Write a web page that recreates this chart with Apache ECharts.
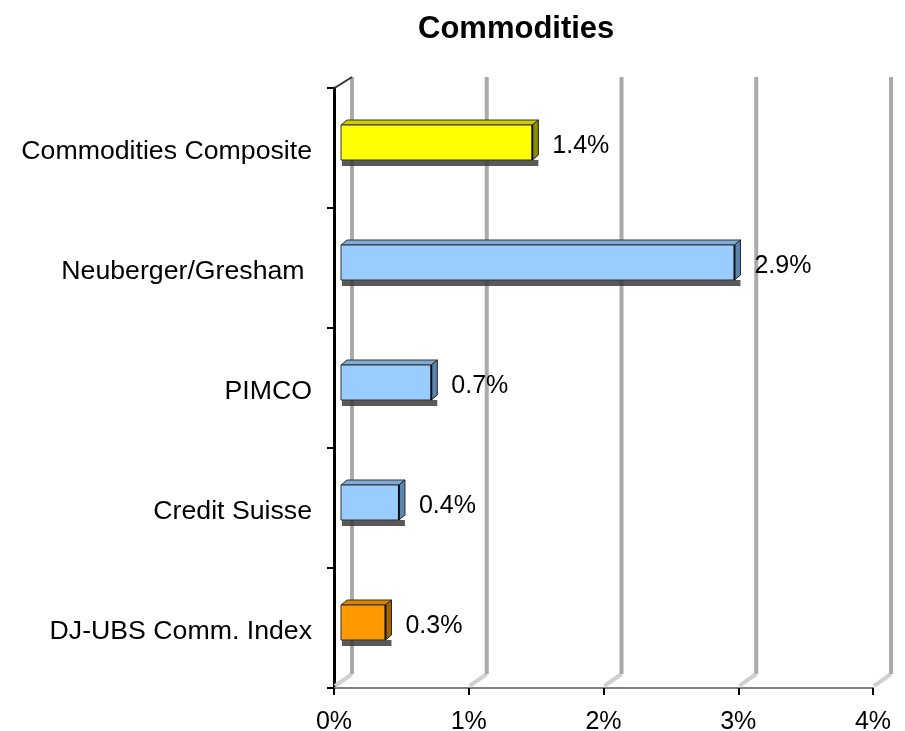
<!DOCTYPE html>
<html>
<head>
<meta charset="utf-8">
<script src="https://cdn.jsdelivr.net/npm/echarts@6/dist/echarts.min.js"></script>
<style>html,body{margin:0;padding:0;background:#fff;}#c{width:905px;height:731px;}</style>
</head>
<body>
<div id="c"></div>
<script>
const titleText = 'Commodities';
const categories = ['DJ-UBS Comm. Index', 'Credit Suisse', 'PIMCO', 'Neuberger/Gresham ', 'Commodities Composite'];
const values = [0.33, 0.43, 0.67, 2.92, 1.42];
const xTicks = [0, 1, 2, 3, 4];

const FONT = 'Liberation Sans, Arial, sans-serif';
const palettes = {
  yellow: { front: '#FFFF00', top: '#CCCC00', side: '#8C8C00' },
  blue: { front: '#99CCFF', top: '#7FAAD6', side: '#5C85B0' },
  orange: { front: '#FF9900', top: '#D98200', side: '#A86200' }
};
function paletteFor(i) {
  if (i === 0) return palettes.orange;
  if (i === categories.length - 1) return palettes.yellow;
  return palettes.blue;
}

const chart = echarts.init(document.getElementById('c'));
chart.setOption({
  animation: false,
  backgroundColor: '#fff',
  title: {
    text: titleText, left: 413, top: 9,
    textStyle: { fontFamily: FONT, fontSize: 31, fontWeight: 'bold', color: '#000' }
  },
  grid: { left: 334, right: 32, top: 88, bottom: 43, containLabel: false, outerBoundsMode: 'none' },
  xAxis: {
    type: 'value', min: 0, max: 4, interval: 1,
    axisLine: { show: true, lineStyle: { color: '#808080', width: 2 } },
    axisTick: { show: true, length: 7, lineStyle: { color: '#000', width: 2 } },
    axisLabel: { formatter: '{value}%', fontFamily: FONT, fontSize: 25, color: '#000', margin: 22 },
    splitLine: { show: false }
  },
  yAxis: {
    type: 'category', data: categories,
    axisLine: { show: true, lineStyle: { color: '#000', width: 3 } },
    axisTick: { show: true, length: 7, lineStyle: { color: '#000', width: 2 } },
    axisLabel: {
      margin: 22, color: '#000',
      formatter: '{a|{value}}',
      rich: { a: { fontFamily: FONT, fontSize: 26.7, color: '#000', padding: [7, 0, 0, 0] } }
    }
  },
  series: [
    {
      type: 'custom', name: 'grid3d', clip: false, z: 1, silent: true,
      data: xTicks.map(v => [v, 0]),
      renderItem: function (params, api) {
        const cs = params.coordSys;
        const x = api.coord([api.value(0), 0])[0];
        const top = cs.y, bottom = cs.y + cs.height;
        const children = [
          { type: 'polyline', shape: { points: [[x + 1, bottom - 2], [x + 18, bottom - 14]] },
            style: { stroke: '#d0d0d0', lineWidth: 4, fill: null } },
          { type: 'line', shape: { x1: x + 18, y1: bottom - 14, x2: x + 18, y2: top - 11 },
            style: { stroke: '#aaaaaa', lineWidth: 4 } }
        ];
        if (params.dataIndex === 0) {
          children.push({ type: 'line', shape: { x1: x - 1, y1: top + 1, x2: x + 18, y2: top - 11 },
            style: { stroke: '#333', lineWidth: 2 } });
        }
        return { type: 'group', children: children };
      }
    },
    {
      type: 'custom', name: 'bars', clip: false, z: 3,
      data: values.map((v, i) => [v, i]),
      renderItem: function (params, api) {
        const v = api.value(0), i = api.value(1);
        const c0 = api.coord([0, i]);
        const c1 = api.coord([v, i]);
        const cy = c0[1];
        const x0 = c0[0] + 7, x1 = c1[0] + 7;
        const top = cy - 23, bot = cy + 12;
        const dx = 6, dy = 5;
        const p = paletteFor(i);
        return {
          type: 'group',
          children: [
            { type: 'rect', shape: { x: x0 + 1, y: bot, width: x1 + dx - x0 - 1, height: 6 },
              style: { fill: 'rgba(60,60,60,0.85)' } },
            { type: 'polygon', shape: { points: [[x0, top], [x0 + dx, top - dy], [x1 + dx, top - dy], [x1, top]] },
              style: { fill: p.top, stroke: '#333', lineWidth: 1 } },
            { type: 'polygon', shape: { points: [[x1, top], [x1 + dx, top - dy], [x1 + dx, bot - dy], [x1, bot]] },
              style: { fill: p.side, stroke: '#222', lineWidth: 1 } },
            { type: 'rect', shape: { x: x0, y: top, width: x1 - x0, height: bot - top },
              style: { fill: p.front, stroke: '#333', lineWidth: 1 } },
            { type: 'line', shape: { x1: x1, y1: top, x2: x1, y2: bot },
              style: { stroke: '#111', lineWidth: 2 } },
            { type: 'text',
              style: { text: v.toFixed(1) + '%', x: x1 + dx + 14, y: cy - 2,
                fill: '#000', fontFamily: FONT, fontSize: 25, align: 'left', verticalAlign: 'middle' } }
          ]
        };
      }
    }
  ]
});
</script>
</body>
</html>
